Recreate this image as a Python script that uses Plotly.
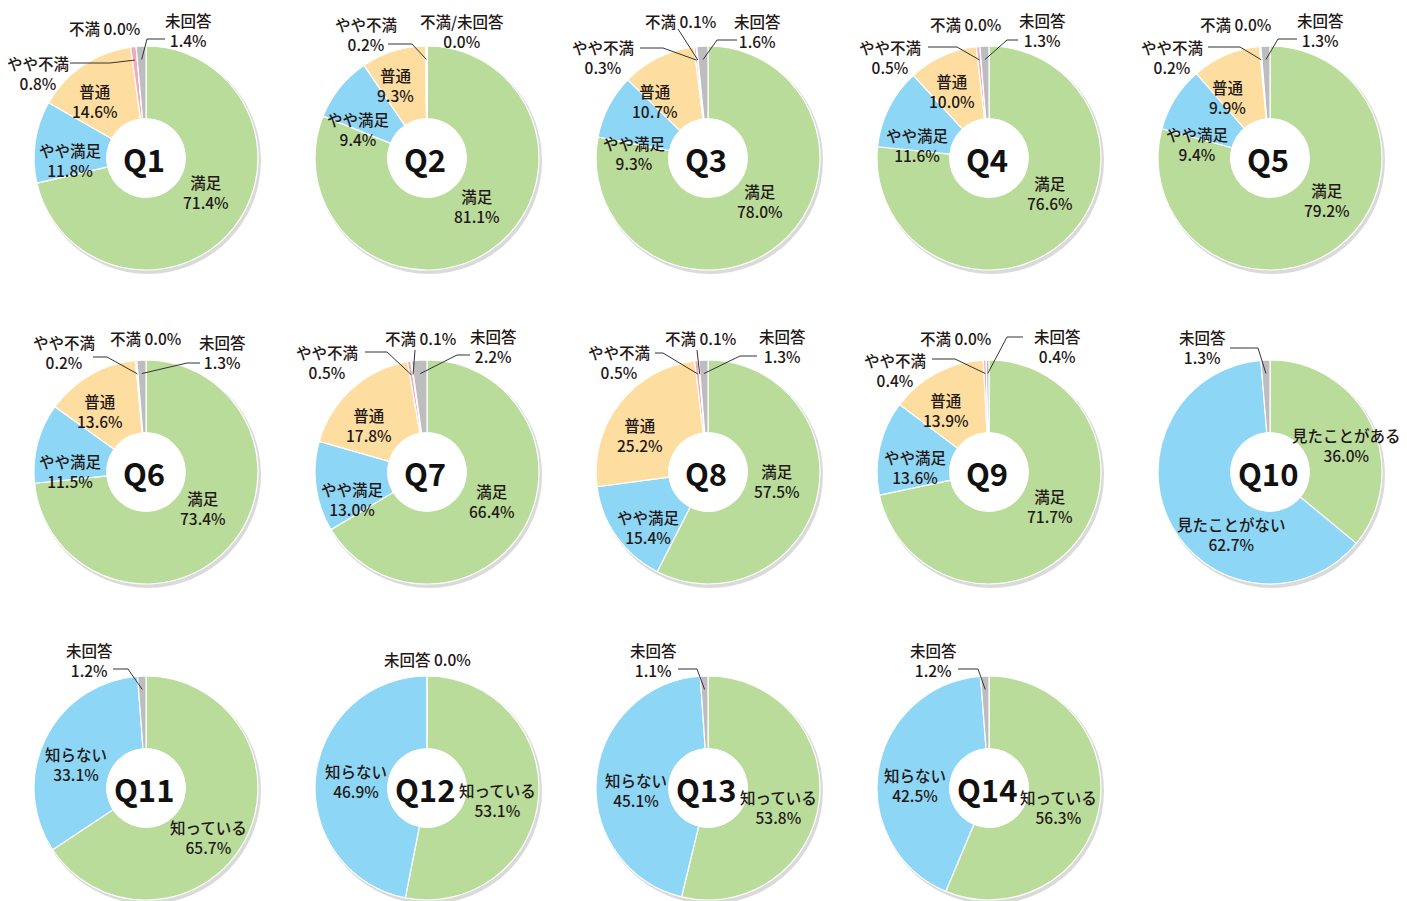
import math
import plotly.graph_objects as go

# ---------------- data ----------------
SAT_CATS = ["満足", "やや満足", "普通", "やや不満", "不満", "未回答"]
SEEN_CATS = ["見たことがある", "見たことがない", "未回答"]
KNOW_CATS = ["知っている", "知らない", "未回答"]

Q1 = [71.4, 11.8, 14.6, 0.8, 0.0, 1.4]
Q2 = [81.1, 9.4, 9.3, 0.2, 0.0, 0.0]
Q3 = [78.0, 9.3, 10.7, 0.3, 0.1, 1.6]
Q4 = [76.6, 11.6, 10.0, 0.5, 0.0, 1.3]
Q5 = [79.2, 9.4, 9.9, 0.2, 0.0, 1.3]
Q6 = [73.4, 11.5, 13.6, 0.2, 0.0, 1.3]
Q7 = [66.4, 13.0, 17.8, 0.5, 0.1, 2.2]
Q8 = [57.5, 15.4, 25.2, 0.5, 0.1, 1.3]
Q9 = [71.7, 13.6, 13.9, 0.4, 0.0, 0.4]
Q10 = [36.0, 62.7, 1.3]
Q11 = [65.7, 33.1, 1.2]
Q12 = [53.1, 46.9, 0.0]
Q13 = [53.8, 45.1, 1.1]
Q14 = [56.3, 42.5, 1.2]

QUESTIONS = ["Q1", "Q2", "Q3", "Q4", "Q5", "Q6", "Q7", "Q8", "Q9", "Q10",
             "Q11", "Q12", "Q13", "Q14"]
VALUES = [Q1, Q2, Q3, Q4, Q5, Q6, Q7, Q8, Q9, Q10, Q11, Q12, Q13, Q14]
CATS = [SAT_CATS] * 9 + [SEEN_CATS] + [KNOW_CATS] * 4

# ---------------- style / layout ----------------
PAGE_W, PAGE_H = 1407, 901
OFF = 8  # default page body margin
W, H = PAGE_W - OFF, PAGE_H - OFF
R = 112
HOLE = 0.35
COL_X = [146, 427, 708, 989, 1270]
ROW_Y = [158, 472, 788]

GREEN, BLUE, YELLOW = "#b9dc9b", "#8dd6f5", "#fddea0"
PINK, ORANGE, GRAY = "#f4a8b9", "#f39200", "#bdbdc0"
COLORS_SAT = [GREEN, BLUE, YELLOW, PINK, ORANGE, GRAY]
COLORS_2 = [GREEN, BLUE, GRAY]

TEXT_COLOR = "#231815"
FONT = "Noto Sans CJK JP"

# label layout: (category index, name override, dx, dy, single line, leader start, leader elbow)
LABELS = {
    "Q1": [(0, None, 60, 34, False, None, None), (1, None, -76, 2, False, None, None),
           (2, None, -51, -57, False, None, None),
           (3, None, -108, -85, False, (-76, -95), (-36, -95)),
           (4, None, -42, -130, True, None, None),
           (5, None, 42, -128, False, (19, -119), (1, -119))],
    "Q2": [(0, None, 50, 48, False, None, None), (1, None, -69, -29, False, None, None),
           (2, None, -32, -73, False, None, None),
           (3, None, -61, -124, False, (-39, -114), (-15, -114)),
           (4, "不満/未回答", 35, -127, False, None, None)],
    "Q3": [(0, None, 52, 43, False, None, None), (1, None, -74, -5, False, None, None),
           (2, None, -53, -57, False, None, None),
           (3, None, -105, -101, False, (-68, -110), (-45, -110)),
           (4, None, -28, -137, True, (-30, -129), (-30, -129)),
           (5, None, 49, -127, False, (29, -118), (9, -118))],
    "Q4": [(0, None, 61, 35, False, None, None), (1, None, -72, -13, False, None, None),
           (2, None, -37, -67, False, None, None),
           (3, None, -99, -101, False, (-61, -111), (-32, -111)),
           (4, None, -24, -134, True, None, None),
           (5, None, 53, -128, False, (29, -118), (18, -118))],
    "Q5": [(0, None, 57, 42, False, None, None), (1, None, -73, -14, False, None, None),
           (2, None, -43, -61, False, None, None),
           (3, None, -98, -101, False, (-62, -111), (-30, -111)),
           (4, None, -35, -134, True, None, None),
           (5, None, 50, -128, False, (27, -119), (8, -119))],
    "Q6": [(0, None, 57, 36, False, None, None), (1, None, -76, -1, False, None, None),
           (2, None, -46, -61, False, None, None),
           (3, None, -82, -120, False, (-53, -115), (-39, -115)),
           (4, None, -1, -134, True, None, None),
           (5, None, 76, -120, False, (54, -109), (41, -109))],
    "Q7": [(0, None, 65, 29, False, None, None), (1, None, -75, 27, False, None, None),
           (2, None, -58, -47, False, None, None),
           (3, None, -100, -110, False, (-62, -120), (-40, -120)),
           (4, None, -7, -134, True, (-12, -122), (-12, -122)),
           (5, None, 66, -126, False, (43, -117), (30, -117))],
    "Q8": [(0, None, 69, 9, False, None, None), (1, None, -60, 55, False, None, None),
           (2, None, -68, -37, False, None, None),
           (3, None, -89, -110, False, (-53, -119), (-45, -119)),
           (4, None, -8, -134, True, (-11, -122), (-11, -122)),
           (5, None, 74, -126, False, (49, -116), (32, -116))],
    "Q9": [(0, None, 61, 34, False, None, None), (1, None, -74, -5, False, None, None),
           (2, None, -43, -62, False, None, None),
           (3, None, -94, -102, False, (-57, -113), (-34, -113)),
           (4, None, -34, -134, True, None, None),
           (5, None, 68, -126, False, (34, -135), (18, -135))],
    "Q10": [(0, None, 76, -27, False, None, None), (1, None, -39, 62, False, None, None),
            (2, None, -68, -125, False, (-40, -124), (-12, -124))],
    "Q11": [(0, None, 62, 49, False, None, None), (1, None, -70, -24, False, None, None),
            (2, None, -57, -128, False, (-33, -119), (-18, -119))],
    "Q12": [(0, None, 70, 12, False, None, None), (1, None, -71, -7, False, None, None),
            (2, None, 0, -129, True, None, None)],
    "Q13": [(0, None, 70, 19, False, None, None), (1, None, -72, 2, False, None, None),
            (2, None, -55, -128, False, (-30, -119), (-11, -119))],
    "Q14": [(0, None, 69, 19, False, None, None), (1, None, -74, -3, False, None, None),
            (2, None, -56, -128, False, (-31, -119), (-11, -119))],
}


def px(x):
    return (x - OFF) / W


def py(y):
    return 1 - (y - OFF) / H


fig = go.Figure()
shapes = []
annotations = []

for i, (q, vals, cats) in enumerate(zip(QUESTIONS, VALUES, CATS)):
    col, row = i % 5, i // 5
    cx, cy = COL_X[col], ROW_Y[row]
    colors = COLORS_SAT if len(vals) == 6 else COLORS_2

    # soft shadow behind pie
    shapes.append(dict(type="circle", xref="paper", yref="paper", layer="below",
                       x0=px(cx - R + 1), x1=px(cx + R + 3),
                       y0=py(cy + R + 4), y1=py(cy - R + 1),
                       fillcolor="#dadada", line=dict(width=0)))
    # keep the hole clean white
    hr = R * HOLE
    shapes.append(dict(type="circle", xref="paper", yref="paper", layer="above",
                       x0=px(cx - hr), x1=px(cx + hr),
                       y0=py(cy + hr), y1=py(cy - hr),
                       fillcolor="white", line=dict(color="white", width=1)))

    fig.add_trace(go.Pie(
        labels=cats, values=vals, sort=False, direction="clockwise", rotation=0,
        hole=HOLE, textinfo="none", textposition="none",
        marker=dict(colors=colors, line=dict(color="white", width=1.2)),
        domain=dict(x=[px(cx - R), px(cx + R)], y=[py(cy + R), py(cy - R)]),
        showlegend=False, hoverinfo="label+percent",
    ))

    # centre title
    annotations.append(dict(x=px(cx - 2), y=py(cy), xref="paper", yref="paper",
                            text=f"<b>{q}</b>", showarrow=False,
                            font=dict(family=FONT, size=31, color="#111111", weight=900),
                            xanchor="center", yanchor="middle"))

    total = sum(vals)
    cum = [sum(vals[:k]) for k in range(len(vals))]
    for (k, name, dx, dy, single, lstart, lelbow) in LABELS[q]:
        nm = name if name else cats[k]
        sep = " " if single else "<br>"
        annotations.append(dict(x=px(cx + dx), y=py(cy + dy), xref="paper", yref="paper",
                                text=f"{nm}{sep}{vals[k]:.1f}%", showarrow=False,
                                font=dict(family=FONT, size=15.5, color=TEXT_COLOR, weight=500),
                                xanchor="center", yanchor="middle", align="center"))
        if lstart is not None:
            theta = 2 * math.pi * (cum[k] + vals[k] / 2) / total
            ex = cx + 0.88 * R * math.sin(theta)
            ey = cy - 0.88 * R * math.cos(theta)
            pts = [(cx + lstart[0], cy + lstart[1]), (cx + lelbow[0], cy + lelbow[1]), (ex, ey)]
            path = "M {} {} L {} {} L {} {}".format(
                px(pts[0][0]), py(pts[0][1]), px(pts[1][0]), py(pts[1][1]),
                px(pts[2][0]), py(pts[2][1]))
            shapes.append(dict(type="path", xref="paper", yref="paper", path=path,
                               line=dict(color="#333333", width=1), layer="above"))

fig.update_layout(
    width=W, height=H, margin=dict(l=0, r=0, t=0, b=0),
    paper_bgcolor="white", plot_bgcolor="white",
    shapes=shapes, annotations=annotations, showlegend=False,
)

fig.write_html("out.html")
